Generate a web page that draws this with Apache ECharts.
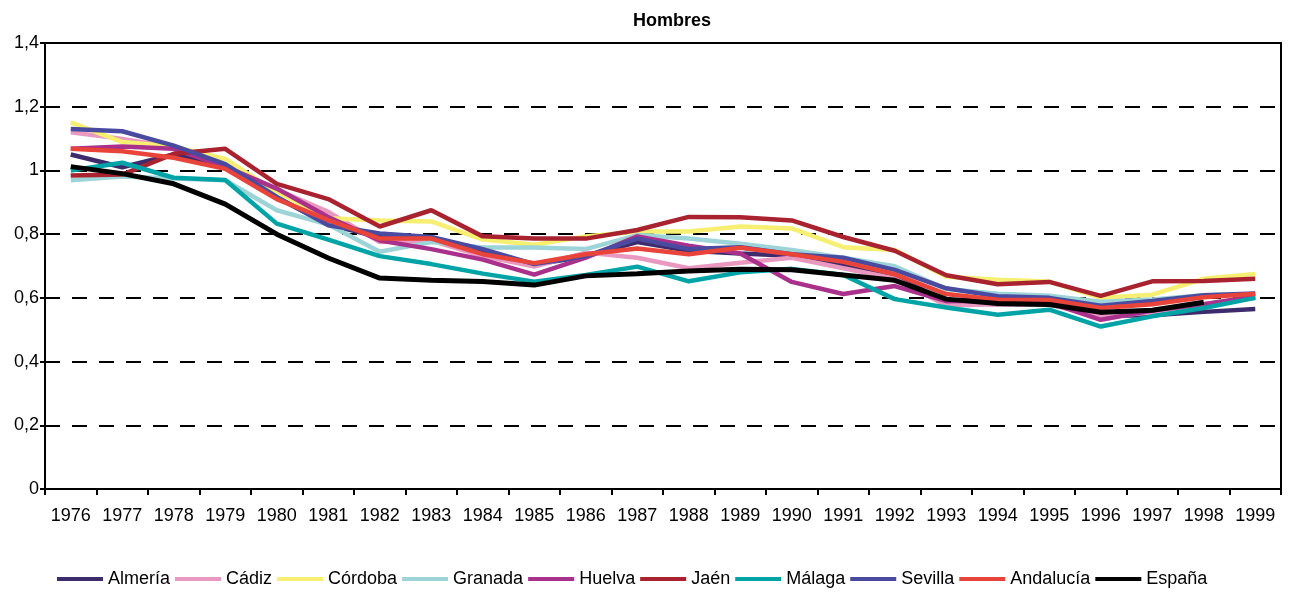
<!DOCTYPE html>
<html>
<head>
<meta charset="utf-8">
<script src="https://cdn.jsdelivr.net/npm/echarts@6/dist/echarts.min.js"></script>
<style>
  html, body { margin: 0; padding: 0; background: #fff; }
  #main { width: 1292px; height: 592px; }
</style>
</head>
<body>
<div id="main"></div>
<script>
// años
var years = ['1976','1977','1978','1979','1980','1981','1982','1983','1984','1985','1986','1987',
  '1988','1989','1990','1991','1992','1993','1994','1995','1996','1997','1998','1999'];

var almeria   = [1.05, 1.01, 1.05, 1.01, 0.915, 0.83, 0.79, 0.78, 0.745, 0.705, 0.73, 0.775, 0.748, 0.739, 0.732, 0.704, 0.67, 0.587, 0.58, 0.58, 0.545, 0.545, 0.556, 0.565];
var cadiz     = [1.12, 1.099, 1.073, 1.016, 0.94, 0.87, 0.775, 0.78, 0.731, 0.698, 0.742, 0.726, 0.693, 0.71, 0.726, 0.693, 0.661, 0.576, 0.58, 0.58, 0.54, 0.555, 0.58, 0.6];
var cordoba   = [1.151, 1.089, 1.075, 1.036, 0.932, 0.85, 0.843, 0.84, 0.783, 0.767, 0.793, 0.808, 0.808, 0.824, 0.818, 0.759, 0.75, 0.666, 0.657, 0.651, 0.6, 0.61, 0.66, 0.675];
var granada   = [0.969, 0.981, 0.975, 0.969, 0.875, 0.83, 0.745, 0.775, 0.758, 0.758, 0.753, 0.797, 0.786, 0.77, 0.75, 0.726, 0.699, 0.628, 0.613, 0.607, 0.588, 0.595, 0.608, 0.611];
var huelva    = [1.068, 1.075, 1.068, 1.012, 0.943, 0.854, 0.78, 0.753, 0.72, 0.673, 0.726, 0.793, 0.764, 0.739, 0.65, 0.612, 0.637, 0.59, 0.59, 0.585, 0.531, 0.56, 0.58, 0.605];
var jaen      = [0.984, 0.987, 1.052, 1.068, 0.958, 0.91, 0.824, 0.875, 0.793, 0.786, 0.786, 0.813, 0.854, 0.853, 0.843, 0.791, 0.748, 0.671, 0.643, 0.65, 0.606, 0.652, 0.653, 0.66];
var malaga    = [1.0, 1.024, 0.977, 0.97, 0.833, 0.783, 0.731, 0.706, 0.676, 0.651, 0.672, 0.698, 0.652, 0.68, 0.691, 0.672, 0.596, 0.57, 0.547, 0.563, 0.51, 0.542, 0.568, 0.6];
var sevilla   = [1.13, 1.123, 1.078, 1.02, 0.917, 0.828, 0.802, 0.791, 0.753, 0.706, 0.731, 0.786, 0.753, 0.759, 0.737, 0.726, 0.688, 0.63, 0.605, 0.6, 0.575, 0.59, 0.608, 0.614];
var andalucia = [1.068, 1.06, 1.04, 1.005, 0.91, 0.844, 0.786, 0.786, 0.737, 0.709, 0.737, 0.755, 0.737, 0.757, 0.737, 0.713, 0.674, 0.612, 0.594, 0.593, 0.568, 0.58, 0.602, 0.613];
var espana    = [1.012, 0.99, 0.958, 0.894, 0.8, 0.725, 0.662, 0.655, 0.651, 0.64, 0.669, 0.676, 0.684, 0.69, 0.688, 0.672, 0.655, 0.596, 0.582, 0.579, 0.555, 0.561, 0.586, null];

var names  = ['Almería', 'Cádiz', 'Córdoba', 'Granada', 'Huelva', 'Jaén', 'Málaga', 'Sevilla', 'Andalucía', 'España'];
var values = [almeria, cadiz, cordoba, granada, huelva, jaen, malaga, sevilla, andalucia, espana];
var colors = ['#3d2b6c', '#e999c0', '#f6ef72', '#9dd4d7', '#a9318c', '#a8232f', '#00a4a6', '#4a4ba0', '#e8443a', '#000000'];

var font = 'Arial, "Liberation Sans", sans-serif';

var myChart = echarts.init(document.getElementById('main'));

var series = names.map(function (n, i) {
  return {
    name: n,
    type: 'line',
    data: values[i],
    symbol: 'none',
    connectNulls: false,
    lineStyle: { width: i === 9 ? 5 : 4.5, color: colors[i] },
    itemStyle: { color: colors[i] },
    z: 2 + i
  };
});

var option = {
  animation: false,
  backgroundColor: '#fff',
  title: {
    text: 'Hombres',
    left: 628,
    top: 7,
    textStyle: { fontFamily: font, fontSize: 18, fontWeight: 'bold', color: '#000' }
  },
  legend: {
    data: names,
    left: 52,
    top: 565,
    icon: 'rect',
    itemWidth: 46,
    itemHeight: 4,
    itemGap: 5,
    textStyle: { fontFamily: font, fontSize: 18, color: '#000' }
  },
  grid: {
    left: 45,
    right: 11,
    top: 43,
    bottom: 103,
    show: true,
    borderColor: '#000',
    borderWidth: 2,
    containLabel: false
  },
  xAxis: {
    type: 'category',
    data: years,
    boundaryGap: true,
    axisLine: { lineStyle: { color: '#000', width: 2 } },
    axisTick: { show: true, length: 6, lineStyle: { color: '#000', width: 2 } },
    axisLabel: { fontFamily: font, fontSize: 18, color: '#000', margin: 18, interval: 0 },
    splitLine: { show: false }
  },
  yAxis: {
    type: 'value',
    min: 0,
    max: 1.4,
    interval: 0.2,
    axisLine: { show: true, lineStyle: { color: '#000', width: 2 } },
    axisTick: { show: true, length: 5, lineStyle: { color: '#000', width: 2 } },
    axisLabel: {
      fontFamily: font, fontSize: 18, color: '#000', margin: 6,
      formatter: function (v) { return String(+v.toFixed(1)).replace('.', ','); }
    },
    splitLine: { show: true, lineStyle: { color: '#000', width: 2, type: [15, 12] } }
  },
  series: series
};

myChart.setOption(option);
</script>
</body>
</html>
